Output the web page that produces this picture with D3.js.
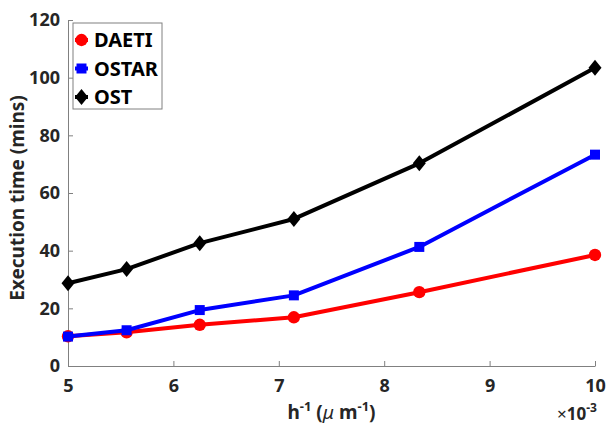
<!DOCTYPE html>
<html>
<head>
<meta charset="utf-8">
<script src="https://cdn.jsdelivr.net/npm/d3@7"></script>
<style>
  body { margin: 0; background: #fff; }
  text { font-family: "Noto Sans", sans-serif; font-weight: bold; }
</style>
</head>
<body>
<div id="chart"></div>
<script>
// Data ------------------------------------------------
const hInv = [5, 5.556, 6.25, 7.143, 8.333, 10]   // x 10^-3
const daeti = [10.3, 11.7, 14.3, 16.9, 25.6, 38.5]
const ostar = [10.2, 12.4, 19.4, 24.5, 41.3, 73.3]
const ost = [28.7, 33.6, 42.6, 51.0, 70.3, 103.4]
const xTicks = [5, 6, 7, 8, 9, 10]
const yTicks = [0, 20, 40, 60, 80, 100, 120]

const series = [
  {name: "DAETI", values: daeti, color: "#ff0000", marker: "circle"},
  {name: "OSTAR", values: ostar, color: "#0000ff", marker: "square"},
  {name: "OST", values: ost, color: "#000000", marker: "diamond"}
]

// Canvas ------------------------------------------------
const W = 608, H = 426
const MARGIN = {LEFT: 68, RIGHT: 13, TOP: 20, BOTTOM: 60}
const WIDTH = W - MARGIN.LEFT - MARGIN.RIGHT
const HEIGHT = H - MARGIN.TOP - MARGIN.BOTTOM

const svg = d3.select("#chart").append("svg")
  .attr("width", W)
  .attr("height", H)

const g = svg.append("g")
  .attr("transform", `translate(${MARGIN.LEFT},${MARGIN.TOP})`)

// Scales -------------------------------------------------
const x = d3.scaleLinear().domain([5, 10]).range([0, WIDTH])
const y = d3.scaleLinear().domain([0, 120]).range([HEIGHT, 0])

// Axes ---------------------------------------------------
const axisColor = "#808080"
const xAxis = g.append("g")
  .attr("transform", `translate(0,${HEIGHT})`)
  .call(d3.axisBottom(x).tickValues(xTicks).tickFormat(d3.format("d"))
    .tickSizeInner(-5).tickSizeOuter(0).tickPadding(13))
const yAxis = g.append("g")
  .call(d3.axisLeft(y).tickValues(yTicks).tickFormat(d3.format("d"))
    .tickSizeInner(-5).tickSizeOuter(0).tickPadding(8))

for (const ax of [xAxis, yAxis]) {
  ax.select(".domain").attr("stroke", axisColor).attr("stroke-width", 1)
  ax.selectAll(".tick line").attr("stroke", axisColor)
  ax.selectAll(".tick text")
    .attr("fill", "#262626")
    .style("font-size", "18px")
    .style("font-family", "Noto Sans")
    .style("font-weight", "bold")
}

// Lines --------------------------------------------------
const line = d3.line()
  .x((d, i) => x(hInv[i]))
  .y(d => y(d))

// MATLAB-like diamond: a bit taller than wide
const diamond = "M0,-8L6.5,0L0,8L-6.5,0Z"
const symbols = {
  circle: d3.symbol().type(d3.symbolCircle).size(120)(),
  square: d3.symbol().type(d3.symbolSquare).size(100)(),
  diamond: diamond
}

series.forEach(s => {
  g.append("path")
    .attr("d", line(s.values))
    .attr("fill", "none")
    .attr("stroke", s.color)
    .attr("stroke-width", 4)
    .attr("stroke-linejoin", "round")

  g.selectAll(null)
    .data(s.values)
    .enter().append("path")
    .attr("d", symbols[s.marker])
    .attr("transform", (d, i) => `translate(${x(hInv[i])},${y(d)})`)
    .attr("fill", s.color)
})

// Labels -------------------------------------------------
svg.append("text")
  .attr("transform", `translate(24,${MARGIN.TOP + HEIGHT / 2 + 5}) rotate(-90)`)
  .attr("text-anchor", "middle")
  .attr("fill", "#262626")
  .style("font-size", "19px")
  .text("Execution time (mins)")

const xl = svg.append("text")
  .attr("x", MARGIN.LEFT + WIDTH / 2)
  .attr("y", 419)
  .attr("text-anchor", "middle")
  .attr("fill", "#262626")
  .style("font-size", "19px")
xl.append("tspan").text("h")
xl.append("tspan").attr("dy", -8).style("font-size", "13px").text("-1")
xl.append("tspan").attr("dy", 8).text(" (")
xl.append("tspan").style("font-style", "italic").style("font-weight", "normal").text("μ")
xl.append("tspan").text(" m")
xl.append("tspan").attr("dy", -8).style("font-size", "13px").text("-1")
xl.append("tspan").attr("dy", 8).text(")")

const ex = svg.append("text")
  .attr("x", 597)
  .attr("y", 420)
  .attr("text-anchor", "end")
  .attr("fill", "#262626")
  .style("font-size", "17px")
ex.append("tspan").style("font-weight", "normal").text("×")
ex.append("tspan").text("10")
ex.append("tspan").attr("dy", -8).style("font-size", "12px").text("-3")

// Legend -------------------------------------------------
const legend = svg.append("g").attr("transform", "translate(73,23)")
legend.append("rect")
  .attr("width", 89).attr("height", 86)
  .attr("fill", "#fff")
  .attr("stroke", axisColor)

series.forEach((s, i) => {
  const yy = 17 + i * 28.5
  legend.append("line")
    .attr("x1", 2).attr("x2", 15).attr("y1", yy).attr("y2", yy)
    .attr("stroke", s.color).attr("stroke-width", 4)
  legend.append("path")
    .attr("d", symbols[s.marker])
    .attr("transform", `translate(8.5,${yy})`)
    .attr("fill", s.color)
  legend.append("text")
    .attr("x", 21).attr("y", yy)
    .attr("dy", "0.36em")
    .attr("fill", "#000")
    .style("font-size", "20px")
    .text(s.name)
})
</script>
</body>
</html>
